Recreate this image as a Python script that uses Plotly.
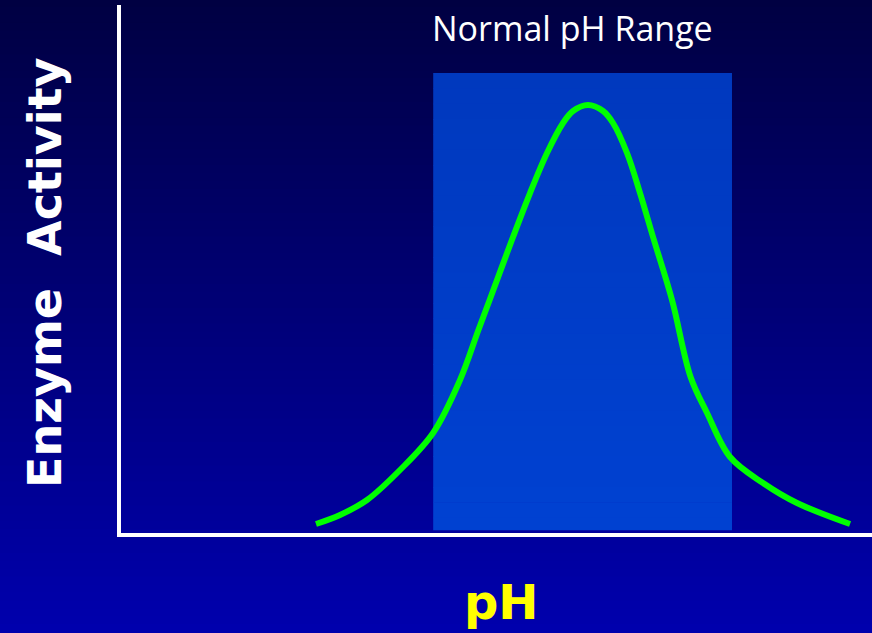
import plotly.graph_objects as go

# Curve data (pH vs enzyme activity)
ph = [3.635, 4.083, 4.586, 5.201, 5.817, 6.320, 6.656, 6.879, 7.308, 7.625,
      7.942, 8.240, 8.427, 8.706, 8.986, 9.172, 9.433, 9.676, 9.918, 10.272,
      10.620, 10.925, 11.354, 11.969, 12.603, 13.591]
activity = [1.70, 3.41, 6.25, 11.93, 18.94, 28.98, 38.26, 44.32, 56.06, 64.39,
            71.97, 77.65, 79.92, 81.06, 79.92, 77.65, 71.97, 64.39, 56.06, 44.13,
            29.50, 22.73, 14.39, 9.47, 5.68, 1.70]

# Normal pH range box
range_low, range_high = 5.82, 11.39
range_top = 87.1

W, H = 872, 633
ML, MR, MT, MB = 121, 0, 5, 100
PH_ = H - MT - MB
PW_ = W - ML - MR

fig = go.Figure()

shapes = []
# Background vertical gradient (paper coordinates)
n = 80
top_c = (0, 0, 66)
bot_c = (0, 0, 174)
y_bottom_paper = -MB / PH_
y_top_paper = 1 + MT / PH_
x_left_paper = -ML / PW_
for i in range(n):
    f0 = i / n
    f1 = (i + 1) / n
    t = (i + 0.5) / n
    b = int(top_c[2] + (bot_c[2] - top_c[2]) * t)
    y1 = y_top_paper - (y_top_paper - y_bottom_paper) * f0
    y0 = y_top_paper - (y_top_paper - y_bottom_paper) * f1
    shapes.append(dict(type="rect", xref="paper", yref="paper",
                       x0=x_left_paper - 0.01, x1=1.01, y0=y0 - 0.002, y1=y1 + 0.002,
                       fillcolor=f"rgb(0,0,{b})", line=dict(width=0),
                       layer="below"))

# Normal range box with slight gradient
m = 30
for i in range(m):
    t = (i + 0.5) / m
    g = int(57 + (66 - 57) * t)
    b = int(190 + (210 - 190) * t)
    y1 = range_top - range_top * i / m
    y0 = range_top - range_top * (i + 1) / m
    shapes.append(dict(type="rect", xref="x", yref="y",
                       x0=range_low, x1=range_high, y0=max(y0 - 0.1, 0.5), y1=y1,
                       fillcolor=f"rgb(0,{g},{b})", line=dict(width=0),
                       layer="below"))

fig.add_trace(go.Scatter(x=ph, y=activity, mode="lines",
                         line=dict(color="#00ff00", width=6, shape="spline", smoothing=1.0),
                         hoverinfo="skip", showlegend=False))

fig.update_layout(
    width=W, height=H,
    margin=dict(l=ML, r=MR, t=MT, b=MB),
    paper_bgcolor="#00006e",
    plot_bgcolor="rgba(0,0,0,0)",
    shapes=shapes,
    xaxis=dict(range=[0, 14], showgrid=False, zeroline=False, showticklabels=False,
               ticks="", showline=True, linecolor="white", linewidth=4),
    yaxis=dict(range=[0, 100], showgrid=False, zeroline=False, showticklabels=False,
               ticks="", showline=True, linecolor="white", linewidth=4),
    annotations=[
        dict(text="Normal pH Range", xref="paper", yref="paper",
             x=(572 - ML) / PW_, y=1 - (28 - MT) / PH_,
             xanchor="center", yanchor="middle", showarrow=False,
             font=dict(family="Open Sans", size=34, color="white")),
        dict(text="Enzyme  Activity", xref="paper", yref="paper",
             x=(45 - ML) / PW_, y=1 - (273 - MT) / PH_,
             xanchor="center", yanchor="middle", showarrow=False, textangle=-90,
             font=dict(family="DejaVu Sans", size=46, color="white", weight="bold")),
        dict(text="pH", xref="paper", yref="paper",
             x=(501 - ML) / PW_, y=1 - (602 - MT) / PH_,
             xanchor="center", yanchor="middle", showarrow=False,
             font=dict(family="DejaVu Sans", size=48, color="#ffff00", weight="bold")),
    ],
)

fig.write_html("out.html", config={"displayModeBar": False},
               post_script="document.body.style.margin='0';document.body.style.overflow='hidden';")
